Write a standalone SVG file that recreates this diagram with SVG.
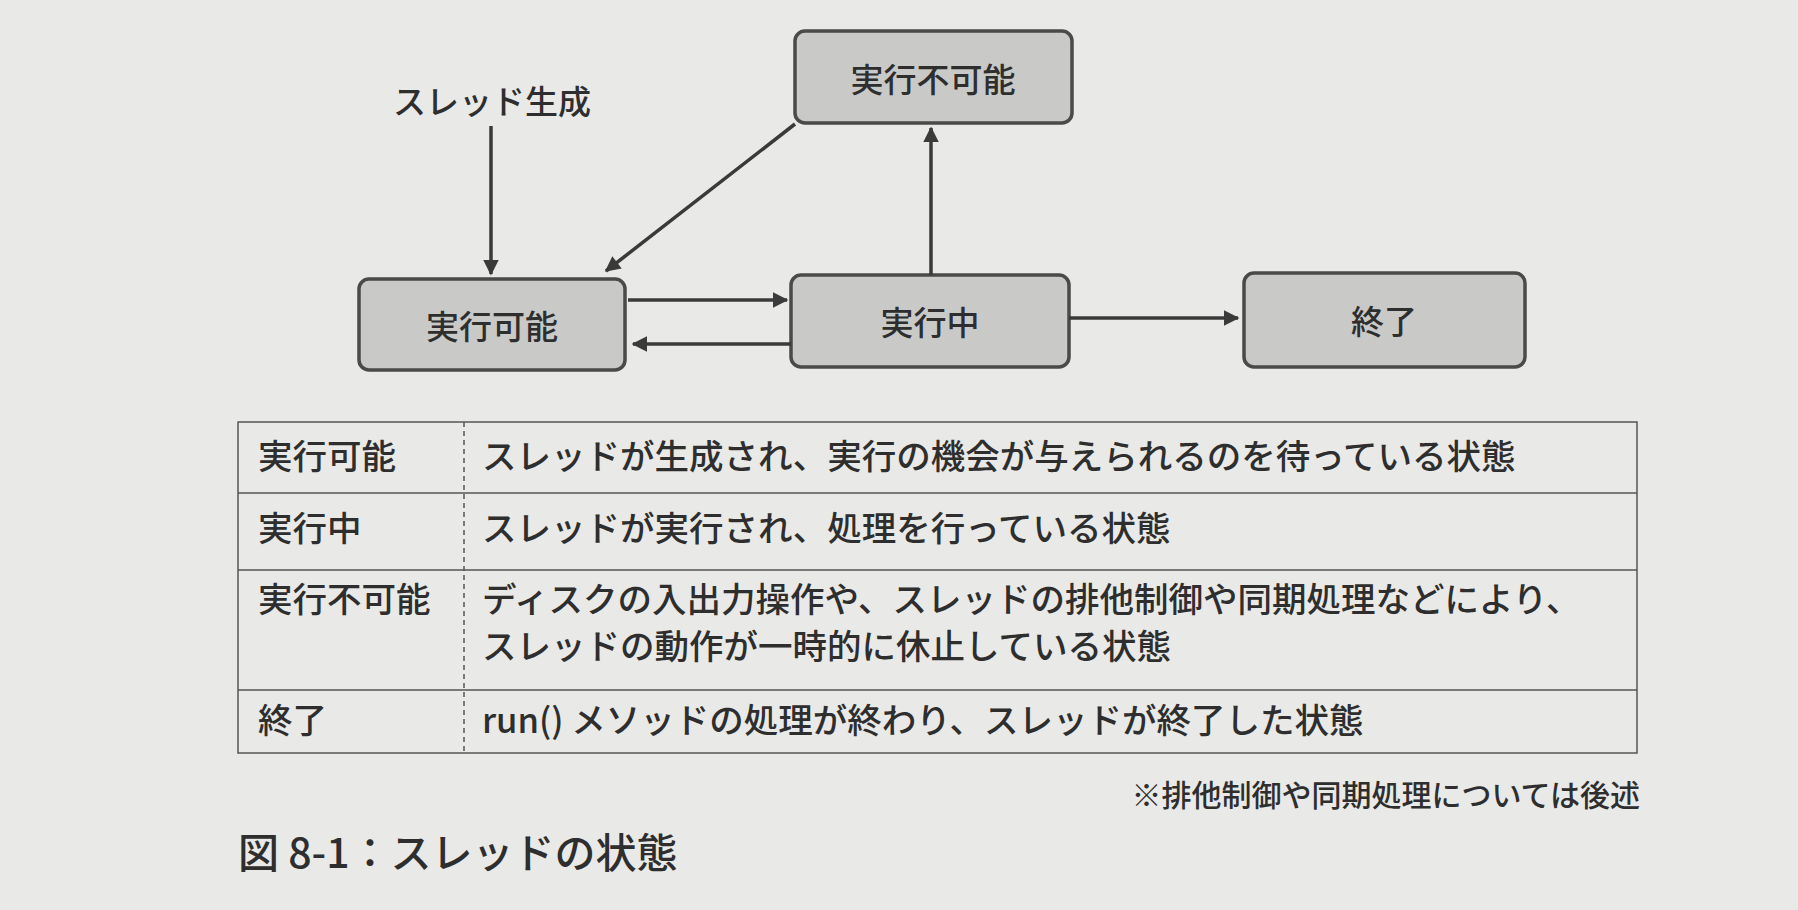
<svg xmlns="http://www.w3.org/2000/svg" width="1798" height="910" viewBox="0 0 1798 910">
<style>
.n rect{fill:#c9c9c8;stroke:#4a4a4a;stroke-width:3.5}
text{font-family:"Noto Sans CJK JP","Noto Sans",sans-serif;fill:#2e2e2e;font-weight:500}
.nt{font-size:33px;text-anchor:middle;dominant-baseline:central}
.t{font-size:34.5px}
.c line{stroke:#3a3a3a;stroke-width:3.5;marker-end:url(#a)}
.g line{stroke:#555;stroke-width:1.5}
</style>
<defs><marker id="a" viewBox="0 0 10 10" refX="9" refY="5" markerWidth="7" markerHeight="7" orient="auto" markerUnits="userSpaceOnUse" style="overflow:visible"><path d="M0,0L10,5L0,10z" fill="#3a3a3a" transform="scale(2.2) translate(-5,-2.7)"/></marker></defs>
<rect width="1798" height="910" fill="#e9e9e7"/>
<g id="n1" class="n"><rect x="795" y="31" width="277" height="92" rx="10"/><text class="nt" x="933" y="78">実行不可能</text></g>
<g id="n2" class="n"><rect x="359" y="279" width="266" height="91" rx="10"/><text class="nt" x="492" y="325">実行可能</text></g>
<g id="n3" class="n"><rect x="791" y="275" width="278" height="92" rx="10"/><text class="nt" x="930" y="321">実行中</text></g>
<g id="n4" class="n"><rect x="1244" y="273" width="281" height="94" rx="10"/><text class="nt" x="1384" y="320">終了</text></g>
<text class="nt" x="492" y="100">スレッド生成</text>
<g class="c">
<line x1="491" y1="126" x2="491" y2="274"/>
<line x1="795" y1="124" x2="606" y2="271"/>
<line x1="931" y1="275" x2="931" y2="128"/>
<line x1="628" y1="300" x2="787" y2="300"/>
<line x1="791" y1="344" x2="633" y2="344"/>
<line x1="1069" y1="318" x2="1238" y2="318"/>
</g>
<g class="g">
<rect x="238" y="422" width="1399" height="331" fill="none" stroke="#555" stroke-width="1.5"/>
<line x1="238" y1="493" x2="1637" y2="493"/>
<line x1="238" y1="570" x2="1637" y2="570"/>
<line x1="238" y1="690" x2="1637" y2="690"/>
<line x1="464" y1="422" x2="464" y2="753" stroke-dasharray="5,4"/>
</g>
<g class="t">
<text x="258" y="469">実行可能</text><text x="482" y="469">スレッドが生成され、実行の機会が与えられるのを待っている状態</text>
<text x="258" y="541">実行中</text><text x="482" y="541">スレッドが実行され、処理を行っている状態</text>
<text x="258" y="612">実行不可能</text><text x="482" y="612">ディスクの入出力操作や、スレッドの排他制御や同期処理などにより、</text>
<text x="482" y="659">スレッドの動作が一時的に休止している状態</text>
<text x="258" y="733">終了</text><text x="482" y="733">run() メソッドの処理が終わり、スレッドが終了した状態</text>
</g>
<text x="1640" y="806" font-size="30" text-anchor="end">※排他制御や同期処理については後述</text>
<text x="238" y="868" font-size="41">図 8-1：スレッドの状態</text>
</svg>
